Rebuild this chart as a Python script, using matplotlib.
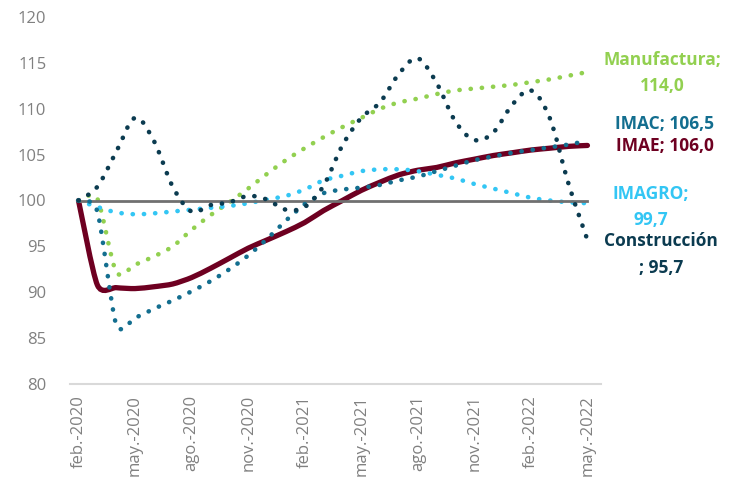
import numpy as np
import matplotlib
matplotlib.use('Agg')
from matplotlib import pyplot as plt
from matplotlib.path import Path
from matplotlib.patches import PathPatch
from matplotlib.transforms import blended_transform_factory

plt.rcParams['font.family'] = ['Open Sans', 'DejaVu Sans']

# Índices mensuales, feb-2020 = 100 (feb-2020 ... may-2022)
etiquetas = ['feb.-2020', 'may.-2020', 'ago.-2020', 'nov.-2020', 'feb.-2021',
             'may.-2021', 'ago.-2021', 'nov.-2021', 'feb.-2022', 'may.-2022']

imae = [100.0, 90.8, 90.5, 90.4, 90.6, 90.9, 91.6, 92.6, 93.7, 94.8, 95.7, 96.6,
        97.6, 98.9, 100.0, 101.1, 102.0, 102.8, 103.3, 103.6, 104.1, 104.5,
        104.9, 105.2, 105.5, 105.7, 105.9, 106.0]
imac = [100.0, 98.8, 86.5, 87.2, 88.2, 89.1, 90.1, 91.2, 92.5, 94.0, 95.8, 97.8,
        99.6, 100.8, 101.2, 101.4, 101.7, 102.2, 102.6, 103.2, 103.8, 104.4,
        104.8, 105.2, 105.5, 105.8, 106.1, 106.5]
manufactura = [100.0, 100.2, 92.2, 93.0, 93.9, 95.0, 96.8, 98.4, 99.8, 101.3,
               102.9, 104.4, 105.7, 106.9, 108.0, 109.0, 110.0, 110.7, 111.1,
               111.6, 112.0, 112.2, 112.4, 112.6, 112.9, 113.2, 113.6, 114.0]
imagro = [100.0, 99.3, 98.7, 98.5, 98.6, 98.8, 99.0, 99.2, 99.4, 99.7, 100.1,
          100.5, 101.2, 102.2, 102.7, 103.2, 103.4, 103.4, 103.2, 102.8, 102.4,
          101.8, 101.3, 100.8, 100.3, 100.0, 99.8, 99.7]
construccion = [100.0, 101.5, 105.3, 109.0, 106.5, 101.5, 98.8, 99.5, 99.8,
                100.5, 100.1, 99.0, 99.3, 101.6, 106.0, 109.0, 110.7, 113.8,
                115.5, 112.8, 108.6, 106.6, 107.4, 110.4, 112.0, 109.0, 101.8,
                95.7]
referencia = [100.0] * 28


def curva(ax, ys, k=8, **kw):
    # linea suavizada (como en Excel) que pasa por cada valor mensual
    p = np.column_stack([np.arange(len(ys), dtype=float), np.asarray(ys, float)])
    pe = np.vstack([p[0], p, p[-1]])
    verts = [p[0]]
    codes = [Path.MOVETO]
    for i in range(len(p) - 1):
        c1 = pe[i + 1] + (pe[i + 2] - pe[i]) / k
        c2 = pe[i + 2] - (pe[i + 3] - pe[i + 1]) / k
        verts += [c1, c2, pe[i + 2]]
        codes += [Path.CURVE4] * 3
    ax.add_patch(PathPatch(Path(verts, codes), fill=False, **kw))


fig = plt.figure(figsize=(7.4, 5.04), dpi=100)
ax = fig.add_axes([70 / 740, 120 / 504, 531 / 740, 367 / 504])

punteado = dict(linestyle=(0, (0.05, 2.4)), capstyle='round', linewidth=3.3)

curva(ax, imae, edgecolor='#6E0021', linewidth=3.8, capstyle='round', zorder=2)
curva(ax, manufactura, edgecolor='#92D050', zorder=3, **punteado)
curva(ax, imagro, edgecolor='#33C6F4', zorder=3, **punteado)
ax.plot(range(len(referencia)), referencia, color='#707070', linewidth=2.0, zorder=4)
curva(ax, imac, edgecolor='#136E8F', zorder=5, **punteado)
curva(ax, construccion, k=6, edgecolor='#0B3B50', zorder=6, **punteado)

ax.set_xlim(-0.45, 27.72)
ax.set_ylim(80, 120)
ax.set_yticks(range(80, 121, 5))
ax.set_xticks(range(0, 28, 3))
ax.set_xticklabels(etiquetas, rotation=90, va='top', ha='center')
ax.tick_params(axis='both', length=0, labelcolor='#808080', labelsize=12)
ax.tick_params(axis='y', pad=17)
ax.tick_params(axis='x', pad=8)

for s in ['top', 'right', 'left']:
    ax.spines[s].set_visible(False)
ax.spines['bottom'].set_color('#D9D9D9')
ax.spines['bottom'].set_linewidth(1.5)

tr = blended_transform_factory(ax.transAxes, ax.transData)
rotulos = [
    ('Manufactura;\n114,0', 1.115, 113.9, '#92D050'),
    ('IMAC; 106,5', 1.12, 108.3, '#136E8F'),
    ('IMAE; 106,0', 1.12, 105.9, '#6E0021'),
    ('IMAGRO;\n99,7', 1.094, 99.3, '#33C6F4'),
    ('Construcción\n; 95,7', 1.113, 94.1, '#0B3B50'),
]
for txt, xa, yv, col in rotulos:
    ax.text(xa, yv, txt, transform=tr, color=col, fontsize=12.5,
            fontweight='bold', ha='center', va='center', linespacing=1.6,
            clip_on=False)

plt.savefig('out.png', dpi=100)
